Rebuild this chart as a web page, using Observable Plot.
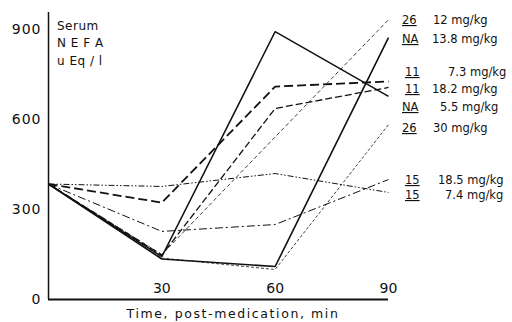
<!DOCTYPE html>
<html><head><meta charset="utf-8">
<script src="https://cdn.jsdelivr.net/npm/d3@7"></script>
<script src="https://cdn.jsdelivr.net/npm/@observablehq/plot@0.6"></script>
<style>
body{margin:0;background:#fff;}
#chart svg{display:block;}
</style></head><body><div id="chart"></div>
<script>
// ---- data ----
const times = [0, 30, 60, 90];
const s26_12  = [385, 150, 542, 933];
const sNA_138 = [385, 135, 110, 873];
const s11_73  = [385, 323, 710, 727];
const s11_182 = [385, 148, 637, 707];
const sNA_55  = [385, 143, 893, 677];
const s26_30  = [385, 138, 100, 583];
const s15_185 = [385, 377, 420, 357];
const s15_74  = [385, 227, 250, 400];
const yTicks = [0, 300, 600, 900];
const xTicks = [30, 60, 90];
const legendCodes = ["26", "NA", "11", "11", "NA", "26", "15", "15"];
const legendDoses = ["12 mg/kg", "13.8 mg/kg", "7.3 mg/kg", "18.2 mg/kg", "5.5 mg/kg", "30 mg/kg", "18.5 mg/kg", "7.4 mg/kg"];
const yLabelLines = ["Serum", "N E F A", "u Eq / l"];
const xTitle = "Time, post-medication, min";

// ---- styles (separate from data) ----
const series = [
  {v: s26_12,  w: 0.8, dash: "4,2.5"},
  {v: sNA_138, w: 1.6, dash: null},
  {v: s11_73,  w: 1.8, dash: "9,4"},
  {v: s11_182, w: 1.3, dash: "7,3"},
  {v: sNA_55,  w: 1.5, dash: null},
  {v: s26_30,  w: 0.8, dash: "3,2"},
  {v: s15_185, w: 1.0, dash: "6,2,1.5,2,1.5,2"},
  {v: s15_74,  w: 1.0, dash: "8,3,2,3"}
];

const FONT = "'DejaVu Sans', sans-serif";
const lineMarks = series.map(s => Plot.line(
  times.map((t, i) => ({t, v: s.v[i]})),
  {x: "t", y: "v", stroke: "#111", strokeWidth: s.w,
   strokeDasharray: s.dash || undefined, strokeLinejoin: "miter", strokeLinecap: "butt"}
));

const chart = Plot.plot({
  width: 512, height: 322,
  marginLeft: 48, marginRight: 124, marginTop: 12, marginBottom: 23,
  style: {fontFamily: FONT, background: "#fff", color: "#111"},
  x: {domain: [0, 90], axis: null},
  y: {domain: [0, 957], axis: null},
  marks: [
    Plot.ruleX([0], {stroke: "#111", strokeWidth: 1.5}),
    Plot.ruleY([0], {stroke: "#111", strokeWidth: 1.8}),
    Plot.axisY({ticks: yTicks, tickSize: 0, tickPadding: 7, fontSize: 14, label: null}),
    Plot.text(xTicks, {x: d => d, text: d => String(d), frameAnchor: "bottom",
      dy: -7, lineAnchor: "bottom", fontSize: 14, fill: "#111"}),
    ...lineMarks
  ]
});
document.getElementById("chart").appendChild(chart);

const svg = d3.select(chart);
svg.select("g[aria-label='y-axis tick label']").style("letter-spacing", "1px");

// y label block
const yl = svg.append("g").attr("font-family", FONT).attr("font-size", 12)
  .attr("fill", "#111").attr("text-anchor", "start");
const ylBase = [30, 47, 65];
yLabelLines.forEach((t, i) => yl.append("text").attr("x", 57).attr("y", ylBase[i])
  .style("letter-spacing", "0.5px").text(t));

// x title
svg.append("text").attr("x", 233).attr("y", 318).attr("text-anchor", "middle")
  .attr("font-family", FONT).attr("font-size", 12.5).attr("fill", "#111")
  .style("letter-spacing", "1.6px").text(xTitle);

// legend at right
const legY = [24, 43, 76, 93, 111, 132, 184, 199];
const codeX = [402, 402, 405, 405, 402, 402, 405, 405];
const doseX = [433, 432, 448, 432, 440, 433, 438, 445];
const lg = svg.append("g").attr("font-family", FONT).attr("font-size", 11.5)
  .attr("fill", "#111").attr("text-anchor", "start");
legendCodes.forEach((c, i) => {
  lg.append("text").attr("x", codeX[i]).attr("y", legY[i])
    .style("text-decoration", "underline").text(c);
  lg.append("text").attr("x", doseX[i]).attr("y", legY[i]).text(legendDoses[i]);
});
</script>
</body></html>
